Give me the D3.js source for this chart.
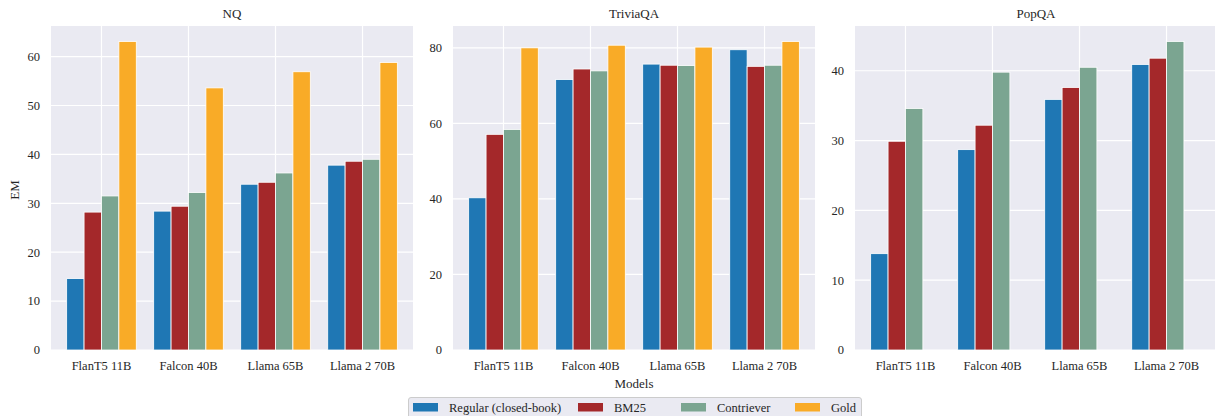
<!DOCTYPE html>
<html>
<head>
<meta charset="utf-8">
<script src="https://cdn.jsdelivr.net/npm/d3@7"></script>
<style>
  html, body { margin: 0; padding: 0; background: #fff; }
  svg { display: block; font-family: "Liberation Serif", "Times New Roman", serif; }
</style>
</head>
<body>
<script>
const models = ["FlanT5 11B", "Falcon 40B", "Llama 65B", "Llama 2 70B"];
const series = ["Regular (closed-book)", "BM25", "Contriever", "Gold"];
const colors = ["#1f77b4", "#a4282a", "#7ba591", "#f9ab27"];
const datasets = ["NQ", "TriviaQA", "PopQA"];

// values per dataset, rows = models, cols = series
const nq = [
  [14.6, 28.2, 31.5, 63.1],
  [28.4, 29.4, 32.2, 53.6],
  [33.9, 34.3, 36.2, 56.9],
  [37.8, 38.6, 39.0, 58.8]
];
const triviaqa = [
  [40.3, 57.1, 58.4, 80.0],
  [71.6, 74.4, 73.9, 80.7],
  [75.7, 75.4, 75.3, 80.2],
  [79.5, 75.1, 75.4, 81.7]
];
const popqa = [
  [13.8, 29.9, 34.6, null],
  [28.7, 32.2, 39.8, null],
  [35.9, 37.6, 40.5, null],
  [40.9, 41.8, 44.2, null]
];
const values = [nq, triviaqa, popqa];
const yTicks = [
  [0, 10, 20, 30, 40, 50, 60],
  [0, 20, 40, 60, 80],
  [0, 10, 20, 30, 40]
];

const W = 1215, H = 416;
const svg = d3.select("body").append("svg").attr("width", W).attr("height", H);

const panelLeft = [51, 453, 855];
const panelW = 362;
const plotTop = 26, plotBottom = 350;
const textColor = "#262626";

datasets.forEach((name, p) => {
  const data = values[p];
  const g = svg.append("g").attr("transform", `translate(${panelLeft[p]},0)`);

  const x = d3.scalePoint().domain(models).range([0, panelW]).padding(0.58);
  const step = x.step();
  const inner = d3.scaleBand().domain(series).range([-0.4 * step, 0.4 * step]).padding(0);
  const maxV = d3.max(data.flat().filter(v => v != null));
  const y = d3.scaleLinear().domain([0, maxV * 1.05]).range([plotBottom, plotTop]);

  g.append("rect").attr("x", 0).attr("y", plotTop).attr("width", panelW).attr("height", plotBottom - plotTop)
    .attr("fill", "#eaeaf2");

  // grid
  g.selectAll(".hg").data(yTicks[p]).enter().append("line")
    .attr("x1", 0).attr("x2", panelW).attr("y1", d => y(d)).attr("y2", d => y(d))
    .attr("stroke", "#fff").attr("stroke-width", 1.2);
  g.selectAll(".vg").data(models).enter().append("line")
    .attr("x1", d => x(d)).attr("x2", d => x(d)).attr("y1", plotTop).attr("y2", plotBottom)
    .attr("stroke", "#fff").attr("stroke-width", 1.2);

  // bars
  models.forEach((m, i) => {
    series.forEach((s, j) => {
      const v = data[i][j];
      if (v == null) return;
      g.append("rect")
        .attr("x", x(m) + inner(s))
        .attr("y", y(v))
        .attr("width", inner.bandwidth())
        .attr("height", y(0) - y(v))
        .attr("fill", colors[j])
        .attr("stroke", "#fff").attr("stroke-width", 0.8);
    });
  });

  // y tick labels
  g.selectAll(".yt").data(yTicks[p]).enter().append("text")
    .attr("x", -11).attr("y", d => y(d)).attr("dy", "0.35em")
    .attr("text-anchor", "end").attr("font-size", 12.5).attr("fill", textColor)
    .text(d => d);

  // x tick labels
  g.selectAll(".xt").data(models).enter().append("text")
    .attr("x", d => x(d)).attr("y", 370)
    .attr("text-anchor", "middle").attr("font-size", 12.5).attr("fill", textColor)
    .text(d => d);

  g.append("text").attr("x", panelW / 2).attr("y", 18)
    .attr("text-anchor", "middle").attr("font-size", 13).attr("fill", textColor)
    .text(name);
});

svg.append("text")
  .attr("transform", "translate(19,190) rotate(-90)")
  .attr("text-anchor", "middle").attr("font-size", 13).attr("fill", textColor)
  .text("EM");

svg.append("text").attr("x", 634).attr("y", 388)
  .attr("text-anchor", "middle").attr("font-size", 13).attr("fill", textColor)
  .text("Models");

// legend
const lg = svg.append("g");
lg.append("rect").attr("x", 408.5).attr("y", 397.5).attr("width", 453).attr("height", 24).attr("rx", 2.5)
  .attr("fill", "#eaeaf2").attr("stroke", "#cccccc");
const legendX = [413, 578, 681, 795];
series.forEach((s, j) => {
  lg.append("rect").attr("x", legendX[j]).attr("y", 403).attr("width", 25).attr("height", 8.5)
    .attr("fill", colors[j]);
  lg.append("text").attr("x", legendX[j] + 36).attr("y", 412)
    .attr("font-size", 12.5).attr("fill", textColor).text(s);
});
</script>
</body>
</html>
